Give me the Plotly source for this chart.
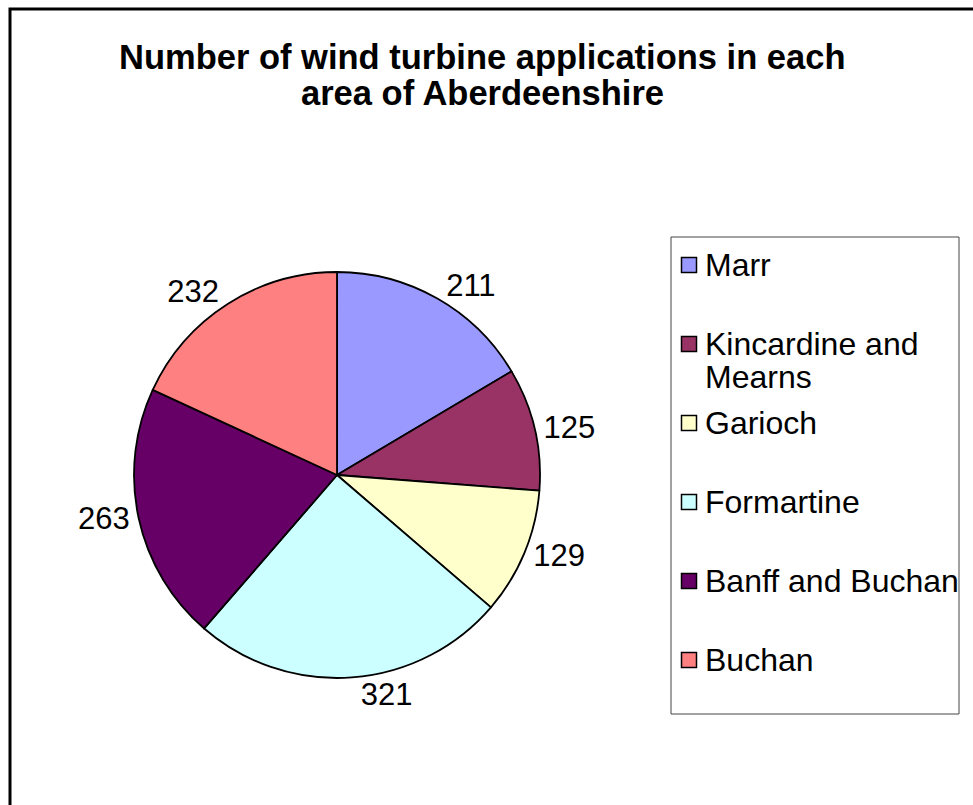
import plotly.graph_objects as go

W, H = 973, 805

# Data
areas = ["Marr", "Kincardine and Mearns", "Garioch", "Formartine", "Banff and Buchan", "Buchan"]
legend_lines = [["Marr"], ["Kincardine and", "Mearns"], ["Garioch"], ["Formartine"],
                ["Banff and Buchan"], ["Buchan"]]
applications = [211, 125, 129, 321, 263, 232]
colors = ["#9999FF", "#993366", "#FFFFCC", "#CCFFFF", "#660066", "#FF8080"]

title_lines = ["Number of wind turbine applications in each", "area of Aberdeenshire"]

FONT = "Liberation Sans, Arial, sans-serif"


def px(x):
    return x / W


def py(y):
    return 1 - y / H


fig = go.Figure()

# pie: centre (337, 475), radius 203 px
cx, cy, r = 337, 475, 203
fig.add_trace(go.Pie(
    labels=areas,
    values=applications,
    marker=dict(colors=colors, line=dict(color="black", width=1.8)),
    sort=False,
    direction="clockwise",
    rotation=0,
    textinfo="value",
    textposition="outside",
    textfont=dict(family=FONT, size=31, color="black"),
    domain=dict(x=[px(cx - r), px(cx + r)], y=[py(cy + r), py(cy - r)]),
    showlegend=False,
    hoverinfo="label+value",
))

shapes = []
annotations = []

# title (two lines, Excel-like tight line spacing)
for i, t in enumerate(title_lines):
    annotations.append(dict(
        xref="paper", yref="paper", x=px(482), y=py(57 + i * 36),
        xanchor="center", yanchor="middle", showarrow=False,
        text=t, font=dict(family=FONT, size=34.5, color="black", weight="bold"),
    ))

# outer chart border
shapes.append(dict(type="rect", xref="paper", yref="paper",
                   x0=px(10), y0=py(H + 20), x1=px(W + 20), y1=py(9),
                   line=dict(color="black", width=3), fillcolor="rgba(0,0,0,0)"))

# legend box
shapes.append(dict(type="rect", xref="paper", yref="paper",
                   x0=px(671), y0=py(714), x1=px(959), y1=py(237),
                   line=dict(color="#444444", width=1), fillcolor="white", layer="below"))

slot0, slot_gap, line_gap = 265, 79, 33
for i, (lines, col) in enumerate(zip(legend_lines, colors)):
    yc = slot0 + i * slot_gap
    shapes.append(dict(type="rect", xref="paper", yref="paper",
                       x0=px(681.5), x1=px(696.5), y0=py(yc + 7.5), y1=py(yc - 7.5),
                       line=dict(color="black", width=1.5), fillcolor=col))
    for j, ln in enumerate(lines):
        annotations.append(dict(
            xref="paper", yref="paper", x=px(703), y=py(yc + j * line_gap),
            xanchor="left", yanchor="middle", align="left", showarrow=False,
            text=ln, font=dict(family=FONT, size=32, color="black"),
        ))

fig.update_layout(
    width=W, height=H,
    margin=dict(l=0, r=0, t=0, b=0),
    paper_bgcolor="white",
    plot_bgcolor="white",
    shapes=shapes,
    annotations=annotations,
)

fig.write_html("out.html")
